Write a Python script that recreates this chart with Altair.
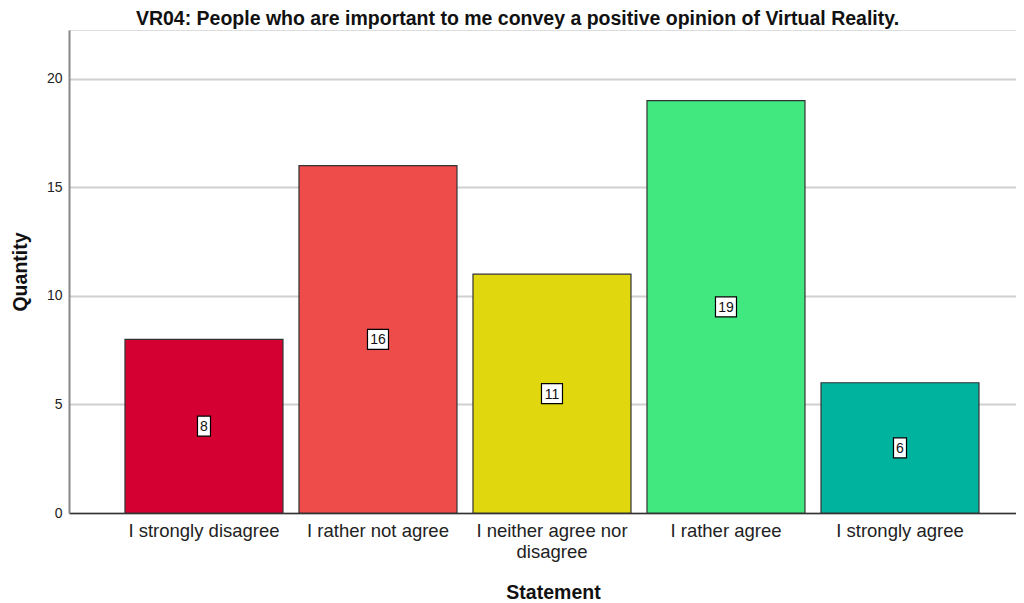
import altair as alt
import pandas as pd

categories = ["I strongly disagree", "I rather not agree", "I neither agree nor disagree",
              "I rather agree", "I strongly agree"]
quantities = [8, 16, 11, 19, 6]
colors = ["#D50032", "#EE4B4B", "#E1D70E", "#40E87F", "#00B39F"]

df = pd.DataFrame({
    "Statement": categories,
    "Quantity": quantities,
    "mid": [q / 2 for q in quantities],
    "digits": [str(len(str(q))) for q in quantities],
})

x_enc = alt.X(
    "Statement:N",
    sort=categories,
    scale=alt.Scale(paddingInner=0.092, paddingOuter=0.2672, align=0.602),
    axis=alt.Axis(
        title="Statement",
        labelAngle=0,
        labelFont="Liberation Sans",
        labelFontSize=18.5,
        labelColor="#222222",
        labelPadding=8,
        labelLineHeight=21,
        labelExpr="datum.value == 'I neither agree nor disagree' ? ['I neither agree nor', 'disagree'] : datum.label",
        ticks=False,
        domainColor="#333333",
        domainWidth=1.5,
        titleFont="Liberation Sans",
        titleFontSize=19.5,
        titleFontWeight="bold",
        titleColor="#111111",
        titleX=484,
        titleY=85,
        titleBaseline="alphabetic",
        grid=False,
    ),
)

bars = alt.Chart(df).mark_bar(stroke="#333333", strokeWidth=1.2, opacity=1).encode(
    x=x_enc,
    y=alt.Y(
        "Quantity:Q",
        scale=alt.Scale(domain=[0, 22.25], nice=False, zero=True),
        axis=alt.Axis(
            title="Quantity",
            values=[0, 5, 10, 15, 20],
            labelFont="Liberation Sans",
            labelFontSize=14,
            labelColor="#222222",
            labelPadding=7,
            ticks=False,
            domainColor="#888888",
            domainWidth=2,
            gridColor="#d0d0d0",
            gridWidth=1.8,
            titleFont="Liberation Sans",
            titleFontSize=19.5,
            titleFontWeight="bold",
            titleColor="#111111",
            titlePadding=16,
        ),
    ),
    color=alt.Color("Statement:N", sort=categories,
                    scale=alt.Scale(domain=categories, range=colors), legend=None),
)

boxes = alt.Chart(df).mark_point(filled=True, fill="white", stroke="black",
                                  strokeWidth=1.2, opacity=1, size=400).encode(
    x=alt.X("Statement:N", sort=categories),
    y=alt.Y("mid:Q"),
    shape=alt.Shape("digits:N", scale=alt.Scale(
        domain=["1", "2"],
        range=["M-0.65,-1H0.65V1H-0.65Z", "M-1.05,-1H1.05V1H-1.05Z"]), legend=None),
)

labels = alt.Chart(df).mark_text(font="Liberation Sans", fontSize=14, color="#111111",
                                 baseline="middle", align="center", dy=1).encode(
    x=alt.X("Statement:N", sort=categories),
    y=alt.Y("mid:Q"),
    text=alt.Text("Quantity:Q"),
)

chart = alt.layer(bars, boxes, labels).properties(
    width=947,
    height=483,
    title=alt.Title(
        "VR04: People who are important to me convey a positive opinion of Virtual Reality.",
        font="Liberation Sans", fontSize=19.5, fontWeight="bold", color="#111111",
        anchor="middle", dx=-25, offset=1,
    ),
    autosize=alt.AutoSizeParams(type="none"),
    padding={"left": 61, "top": 22, "right": 0, "bottom": 90},
).configure_view(stroke=None).configure(background="white")

chart.save("out.html", embed_options={"renderer": "svg", "actions": False})
